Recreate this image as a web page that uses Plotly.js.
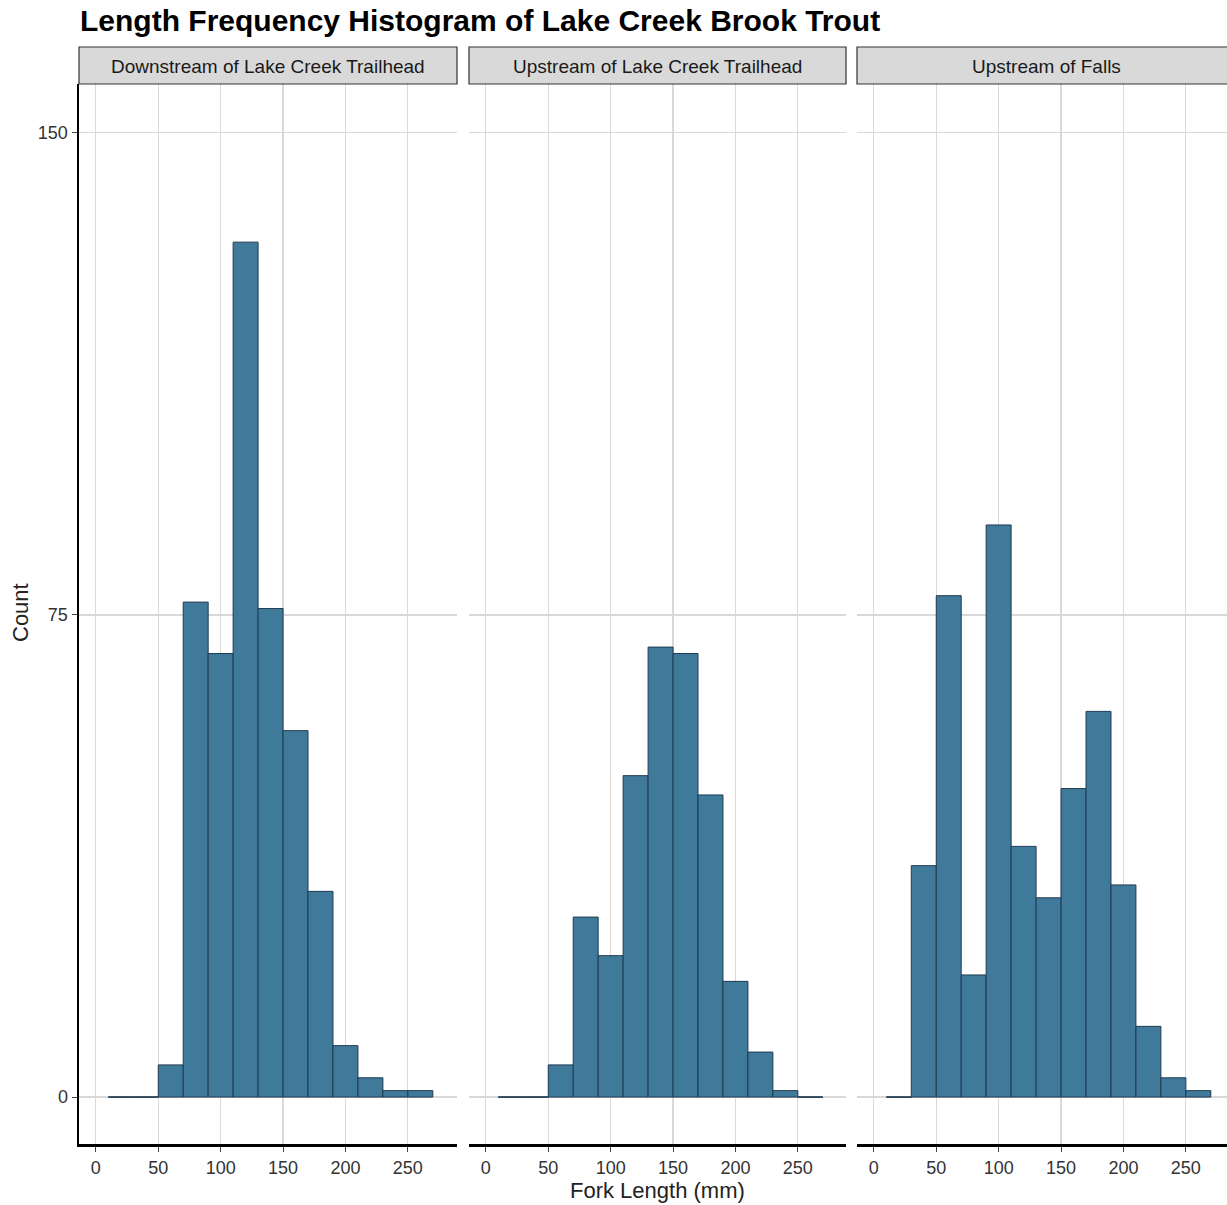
<!DOCTYPE html>
<html>
<head>
<meta charset="utf-8">
<script src="https://cdn.plot.ly/plotly-3.0.1.min.js"></script>
<style>
  html, body { margin: 0; padding: 0; background: #ffffff; }
  #chart { width: 1227px; height: 1205px; }
</style>
</head>
<body>
<div id="chart"></div>
<script>
// Fork-length bins (mm): midpoints of 20 mm classes from 10 to 270
const binMid = [20, 40, 60, 80, 100, 120, 140, 160, 180, 200, 220, 240, 260];
const binWidth = 20;

// Fish counts per length class, one array per sampling reach
const reaches = [
  "Downstream of Lake Creek Trailhead",
  "Upstream of Lake Creek Trailhead",
  "Upstream of Falls"
];
const countDownstreamTrailhead = [0, 0, 5, 77, 69, 133, 76, 57, 32, 8, 3, 1, 1];
const countUpstreamTrailhead   = [0, 0, 5, 28, 22, 50, 70, 69, 47, 18, 7, 1, 0];
const countUpstreamFalls       = [0, 36, 78, 19, 89, 39, 31, 48, 60, 33, 11, 3, 1];

const xTicks = [0, 50, 100, 150, 200, 250];
const yTicks = [0, 75, 150];

// ---- styling ----
const W = 1227, H = 1205;
const FONT = "Liberation Sans, Arial, sans-serif";
const barFill = "#407a9a";
const barEdge = "#1f3a52";
const gridCol = "#d9d9d9";

// panel placement in pixels
const panels = [
  { left: 79,  right: 457 },
  { left: 469, right: 846 },
  { left: 857, right: 1227 }
];
const plotTop = 84, plotBottom = 1144;
const pxPerUnit = 1.248;
const xMin = -13.5;

const px = v => v / W;
const py = v => 1 - v / H;

const allCounts = [countDownstreamTrailhead, countUpstreamTrailhead, countUpstreamFalls];

const traces = [];
allCounts.forEach((counts, i) => {
  const xa = i === 0 ? "x" : "x" + (i + 1);
  const ya = i === 0 ? "y" : "y" + (i + 1);
  traces.push({
    type: "bar",
    x: binMid,
    y: counts,
    width: binWidth,
    marker: { color: barFill, line: { color: barEdge, width: 1 } },
    xaxis: xa, yaxis: ya,
    hoverinfo: "x+y",
    showlegend: false
  });
  // empty classes are drawn as a flat outline along zero
  const zx = [], zy = [];
  counts.forEach((c, k) => {
    if (c === 0) {
      zx.push(binMid[k] - binWidth / 2, binMid[k] + binWidth / 2, null);
      zy.push(0, 0, null);
    }
  });
  if (zx.length) {
    traces.push({
      type: "scatter", mode: "lines",
      x: zx, y: zy,
      line: { color: barEdge, width: 1 },
      xaxis: xa, yaxis: ya,
      hoverinfo: "skip", showlegend: false
    });
  }
});

const layout = {
  width: W, height: H,
  margin: { l: 0, r: 0, t: 0, b: 0, pad: 0 },
  paper_bgcolor: "#ffffff",
  plot_bgcolor: "#ffffff",
  font: { family: FONT, color: "#333333" },
  bargap: 0,
  shapes: [],
  annotations: []
};

const yRange = [-7.3, 157.6];

panels.forEach((p, i) => {
  const sfx = i === 0 ? "" : String(i + 1);
  const xMax = xMin + (p.right - p.left) / pxPerUnit;
  layout["xaxis" + sfx] = {
    domain: [px(p.left), px(p.right)],
    range: [xMin, xMax],
    anchor: "y" + sfx,
    tickvals: xTicks,
    ticktext: xTicks.map(String),
    ticks: "outside", ticklen: 5, tickwidth: 1, tickcolor: "#444444",
    tickfont: { family: FONT, size: 18, color: "#333333" },
    ticklabelstandoff: 0,
    showgrid: true, gridcolor: gridCol, gridwidth: 1.2,
    zeroline: false,
    showline: true, linecolor: "#000000", linewidth: 3,
    fixedrange: true
  };
  layout["yaxis" + sfx] = {
    domain: [py(plotBottom), py(plotTop)],
    range: yRange,
    anchor: "x" + sfx,
    tickvals: yTicks,
    ticktext: yTicks.map(String),
    showticklabels: i === 0,
    ticks: i === 0 ? "outside" : "",
    ticklen: 5, tickwidth: 1, tickcolor: "#444444",
    tickfont: { family: FONT, size: 18, color: "#333333" },
    ticklabelstandoff: 0,
    showgrid: true, gridcolor: gridCol, gridwidth: 1.2,
    zeroline: false,
    showline: i === 0, linecolor: "#000000", linewidth: 2.5,
    fixedrange: true
  };

  // facet strip
  const stripRight = i === 2 ? p.left + 378 : p.right;
  layout.shapes.push({
    type: "rect", xref: "paper", yref: "paper",
    x0: px(p.left), x1: px(stripRight),
    y0: py(plotTop), y1: py(47),
    fillcolor: "#d9d9d9",
    line: { color: "#333333", width: 1.2 },
    layer: "above"
  });
  layout.annotations.push({
    text: reaches[i],
    xref: "paper", yref: "paper",
    x: px((p.left + stripRight) / 2), y: py(66),
    xanchor: "center", yanchor: "middle",
    showarrow: false,
    font: { family: FONT, size: 19, color: "#1a1a1a" }
  });
});

// chart title
layout.annotations.push({
  text: "<b>Length Frequency Histogram of Lake Creek Brook Trout</b>",
  xref: "paper", yref: "paper",
  x: px(78), y: py(20),
  xanchor: "left", yanchor: "middle",
  showarrow: false,
  font: { family: FONT, size: 30, color: "#000000" }
});

// axis titles
layout.annotations.push({
  text: "Fork Length (mm)",
  xref: "paper", yref: "paper",
  x: px(657), y: py(1190),
  xanchor: "center", yanchor: "middle",
  showarrow: false,
  font: { family: FONT, size: 22, color: "#222222" }
});
layout.annotations.push({
  text: "Count",
  xref: "paper", yref: "paper",
  x: px(20), y: py(613),
  xanchor: "center", yanchor: "middle",
  textangle: -90,
  showarrow: false,
  font: { family: FONT, size: 22, color: "#222222" }
});

Plotly.newPlot("chart", traces, layout, { displayModeBar: false, staticPlot: true });
</script>
</body>
</html>
